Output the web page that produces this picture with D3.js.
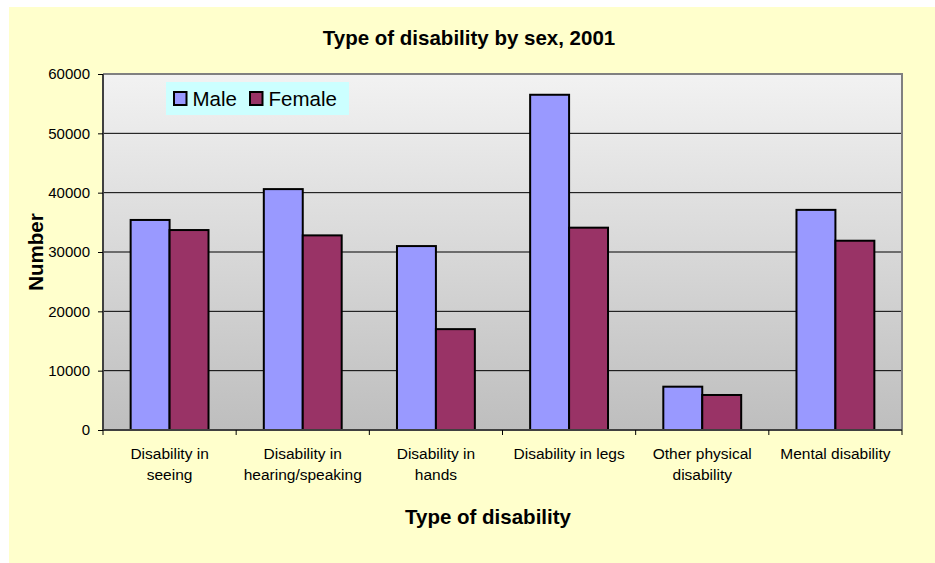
<!DOCTYPE html>
<html><head><meta charset="utf-8">
<script src="https://cdn.jsdelivr.net/npm/d3@7"></script>
<style>
html,body{margin:0;padding:0;background:#fff;}
svg{display:block;}
text{font-family:"Liberation Sans",Arial,sans-serif;}
</style></head>
<body>
<svg id="chart" width="935" height="563"></svg>
<script>
const categories = [
  ["Disability in","seeing"],
  ["Disability in","hearing/speaking"],
  ["Disability in","hands"],
  ["Disability in legs"],
  ["Other physical","disability"],
  ["Mental disability"]
];
const maleValues   = [35400, 40600, 31000, 56500, 7300, 37100];
const femaleValues = [33700, 32800, 17000, 34100, 5900, 31900];
const seriesNames  = ["Male", "Female"];
const seriesColors = ["#9999FF", "#993366"];
const yTicks = [0, 10000, 20000, 30000, 40000, 50000, 60000];

const svg = d3.select("#chart");
// background
svg.append("rect").attr("x",9).attr("y",7).attr("width",935-9).attr("height",563-7).attr("fill","#FFFFCC");

const pL=103, pR=902, pT=74, pB=430;
const x = d3.scaleBand().domain(d3.range(categories.length)).range([pL,pR]).paddingInner(0).paddingOuter(0);
const y = d3.scaleLinear().domain([0,60000]).range([pB,pT]);

const defs = svg.append("defs");
const grad = defs.append("linearGradient").attr("id","pg").attr("x1",0).attr("y1",0).attr("x2",0).attr("y2",1);
grad.append("stop").attr("offset","0%").attr("stop-color","#F2F2F2");
grad.append("stop").attr("offset","100%").attr("stop-color","#BEBEBE");

svg.append("rect").attr("x",pL).attr("y",pT).attr("width",pR-pL).attr("height",pB-pT).attr("fill","url(#pg)");

// gridlines
svg.append("g").selectAll("line").data(yTicks.filter(d=>d>0 && d<60000)).join("line")
  .attr("x1",pL).attr("x2",pR).attr("y1",d=>y(d)).attr("y2",d=>y(d))
  .attr("stroke","#000").attr("stroke-width",1);

// plot border top/right
svg.append("path").attr("d",`M${pL},${pT}H${pR}V${pB}`).attr("fill","none").attr("stroke","#808080").attr("stroke-width",2);

// bars
const inner = d3.scaleBand().domain([0,1]).range([0,x.bandwidth()]).paddingOuter(0.71).paddingInner(0);
const data = [];
categories.forEach((c,i)=>{
  data.push({i, s:0, v:maleValues[i]});
  data.push({i, s:1, v:femaleValues[i]});
});
svg.append("g").selectAll("rect").data(data).join("rect")
  .attr("x",d=>x(d.i)+inner(d.s))
  .attr("y",d=>y(d.v))
  .attr("width",inner.bandwidth())
  .attr("height",d=>y(0)-y(d.v))
  .attr("fill",d=>seriesColors[d.s])
  .attr("stroke","#000").attr("stroke-width",2);

// y axis
const yAxis = d3.axisLeft(y).tickValues(yTicks).tickSize(5).tickPadding(8).tickFormat(d3.format("d"));
const ya = svg.append("g").attr("transform",`translate(${pL},0)`).call(yAxis);
ya.select(".domain").attr("stroke","#404040").attr("stroke-width",2).attr("d",`M0,${pT}V${pB}`);
ya.selectAll(".tick line").attr("stroke","#000");
ya.selectAll(".tick text").attr("font-size",15).attr("fill","#000").attr("font-family","Liberation Sans, Arial, sans-serif");

// x axis
const xa = svg.append("g").attr("transform",`translate(0,${pB})`);
xa.append("line").attr("x1",pL).attr("x2",pR).attr("y1",0).attr("y2",0).attr("stroke","#404040").attr("stroke-width",2);
const xt = d3.range(categories.length+1).map(i=> i<categories.length? x(i): pR);
xa.selectAll(".xt").data(xt).join("line").attr("class","xt")
  .attr("x1",d=>d).attr("x2",d=>d).attr("y1",0).attr("y2",5).attr("stroke","#000");
const lbl = xa.selectAll(".xl").data(categories).join("text").attr("class","xl")
  .attr("x",(d,i)=>x(i)+x.bandwidth()/2).attr("y",29)
  .attr("text-anchor","middle").attr("font-size",15.5).attr("fill","#000");
lbl.each(function(d){
  const t=d3.select(this);
  d.forEach((line,k)=>t.append("tspan").attr("x",t.attr("x")).attr("dy",k===0?0:21).text(line));
});

// titles
svg.append("text").attr("x",469).attr("y",45).attr("text-anchor","middle").attr("font-size",20.5).attr("font-weight","bold").text("Type of disability by sex, 2001");
svg.append("text").attr("x",488).attr("y",524).attr("text-anchor","middle").attr("font-size",20.5).attr("font-weight","bold").text("Type of disability");
svg.append("text").attr("transform","translate(43,252) rotate(-90)").attr("text-anchor","middle").attr("font-size",20.5).attr("font-weight","bold").text("Number");

// legend
const lg = svg.append("g");
lg.append("rect").attr("x",166).attr("y",82).attr("width",183).attr("height",33).attr("fill","#CCFFFF");
const items = [{n:seriesNames[0],c:seriesColors[0],x:174},{n:seriesNames[1],c:seriesColors[1],x:250}];
items.forEach(it=>{
  lg.append("rect").attr("x",it.x).attr("y",92).attr("width",12.5).attr("height",13).attr("fill",it.c).attr("stroke","#000").attr("stroke-width",2);
  lg.append("text").attr("x",it.x+18.5).attr("y",106).attr("font-size",20.5).attr("fill","#000").text(it.n);
});
</script>
</body></html>
